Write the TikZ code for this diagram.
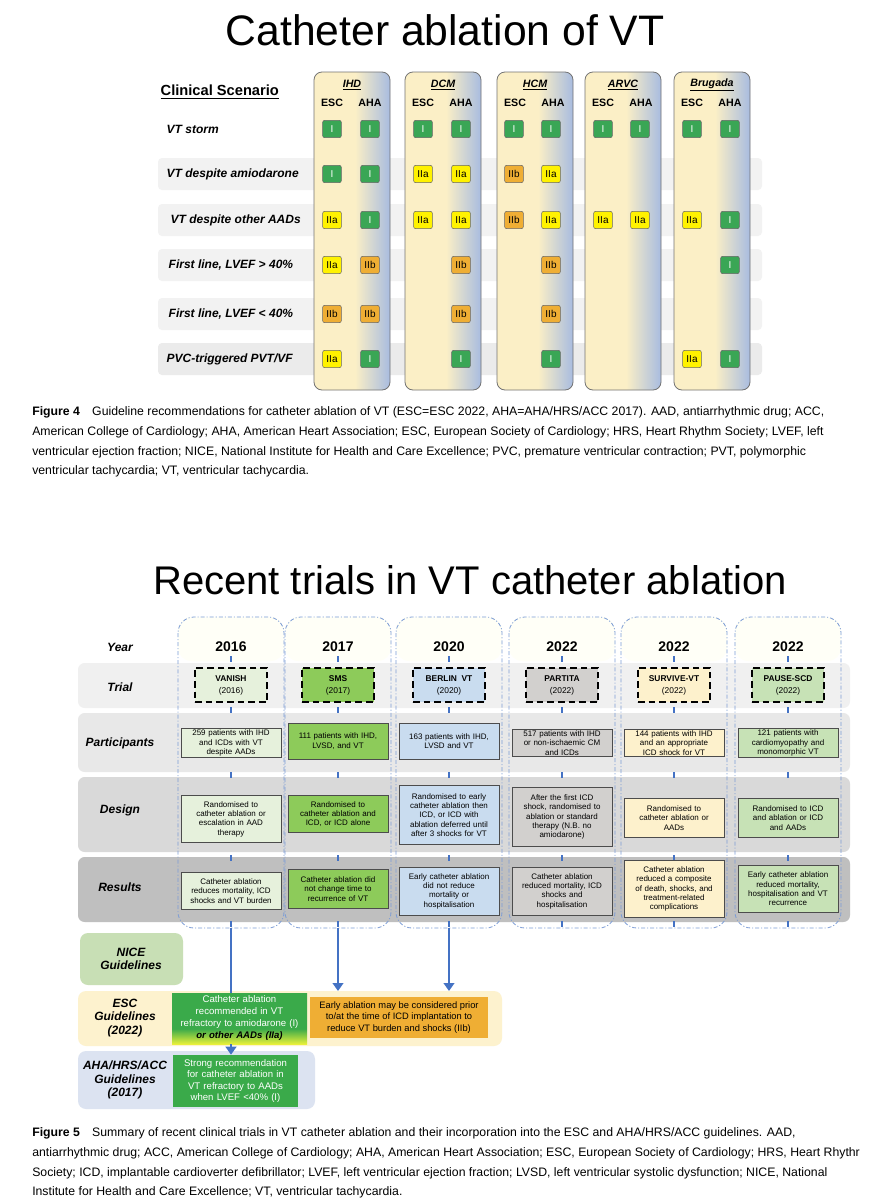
\documentclass[tikz,border=0pt]{standalone}
\usepackage{fontspec}
\setmainfont{Liberation Sans}
\usetikzlibrary{arrows.meta}
\definecolor{cy}{HTML}{FBEFC6}
\definecolor{cb}{HTML}{A8BCE0}
\definecolor{gI}{HTML}{3AA655}
\definecolor{yIIa}{HTML}{FFF200}
\definecolor{oIIb}{HTML}{EFAE34}
\definecolor{bl}{HTML}{4472C4}
\definecolor{gdark}{HTML}{3AAA4A}
\definecolor{gyel}{HTML}{E8F03A}
\definecolor{fVan}{HTML}{E6F1DC}
\definecolor{fSms}{HTML}{8DCB5A}
\definecolor{fBer}{HTML}{C9DCEF}
\definecolor{fPar}{HTML}{D2D0CE}
\definecolor{fSur}{HTML}{FDF1CC}
\definecolor{fPau}{HTML}{C7E2B6}
\definecolor{fNice}{HTML}{C8DFB5}
\definecolor{fAha}{HTML}{DCE3F1}
\definecolor{fEsc}{HTML}{FDF2CE}
\pgfdeclarehorizontalshading{colsh}{100bp}{color(0bp)=(cy); color(25bp)=(cy); color(52bp)=(cy); color(75bp)=(cb); color(100bp)=(cb)}
\pgfdeclareverticalshading{escsh}{100bp}{color(0bp)=(gyel); color(25bp)=(gyel); color(40bp)=(gdark); color(100bp)=(gdark)}
\tikzset{
 badge/.style={draw=black!60, rounded corners=1.5pt, minimum width=14pt, minimum height=13pt, inner sep=0pt, font=\fontsize{7.5}{8}\selectfont},
 bI/.style={badge, fill=gI, text=white},
 bIIa/.style={badge, fill=yIIa},
 bIIb/.style={badge, fill=oIIb},
 rowlab/.style={anchor=west, font=\bfseries\itshape\fontsize{9}{10}\selectfont},
 hdr/.style={font=\bfseries\fontsize{8}{9}\selectfont},
 dis/.style={font=\bfseries\itshape\fontsize{8}{9}\selectfont},
 capt/.style={anchor=west, inner sep=0pt, font=\fontsize{9.2}{10}\selectfont},
 tbox/.style={draw=black!70, line width=0.6pt, align=center, inner sep=1pt, font=\fontsize{6}{7}\selectfont, text width=73pt, anchor=center},
 trial/.style={draw=black, line width=1.6pt, dash pattern=on 5pt off 3pt, minimum width=54pt, minimum height=26pt, align=center, inner sep=0pt, font=\bfseries\fontsize{6.3}{8}\selectfont},
 blab/.style={font=\bfseries\itshape\fontsize{9}{10}\selectfont, align=center},
 yr/.style={font=\bfseries\fontsize{10.5}{12}\selectfont},
 bdash/.style={bl, line width=2.2pt},
 arr/.style={bl, line width=2pt, -{Triangle[length=6pt,width=8pt]}},
}
\begin{document}
\begin{tikzpicture}[x=0.75pt,y=-0.75pt]
\useasboundingbox (0,0) rectangle (881,1200);
\fill[white] (0,0) rectangle (881,1200);
% ===== TOP =====
\node (t1) at (445,30) {\fontsize{32}{36}\selectfont Catheter ablation of VT};
\foreach \y/\c [count=\i] in {129/white,174/black!5,220/black!5,265/black!5,314/black!5,359/black!8}
  \fill[\c, rounded corners=3pt] (158,\y-16) rectangle (762,\y+16);
\foreach \xl/\nm [count=\i] in {314/IHD,405/DCM,497/HCM,585/ARVC,674/Brugada}{
  \shade[shading=colsh, rounded corners=6pt, draw=black!55, line width=0.6pt] (\xl,72) rectangle (\xl+76,390);
  \node[dis] (d\i) at (\xl+38,85) {\underline{\nm}};
  \node[hdr] (e\i) at (\xl+18,103) {ESC};
  \node[hdr] (a\i) at (\xl+56,103) {AHA};
}
\node[anchor=west, font=\bfseries\fontsize{11}{12}\selectfont] (cs) at (156,92) {\underline{Clinical Scenario}};
\node[rowlab] (r1) at (162,129) {VT storm};
\node[rowlab] (r2) at (162,174) {VT despite amiodarone};
\node[rowlab] (r3) at (166,220) {VT despite other AADs};
\node[rowlab] (r4) at (164,265) {First line, LVEF > 40\%};
\node[rowlab] (r5) at (164,314) {First line, LVEF < 40\%};
\node[rowlab] (r6) at (162,359) {PVC-triggered PVT/VF};
\foreach \x/\y/\s/\t [count=\k] in {
 332/129/bI/I, 370/129/bI/I, 423/129/bI/I, 461/129/bI/I, 514/129/bI/I, 551/129/bI/I, 603/129/bI/I, 640/129/bI/I, 692/129/bI/I, 730/129/bI/I,
 332/174/bI/I, 370/174/bI/I, 423/174/bIIa/IIa, 461/174/bIIa/IIa, 514/174/bIIb/IIb, 551/174/bIIa/IIa,
 332/220/bIIa/IIa, 370/220/bI/I, 423/220/bIIa/IIa, 461/220/bIIa/IIa, 514/220/bIIb/IIb, 551/220/bIIa/IIa, 603/220/bIIa/IIa, 640/220/bIIa/IIa, 692/220/bIIa/IIa, 730/220/bI/I,
 332/265/bIIa/IIa, 370/265/bIIb/IIb, 461/265/bIIb/IIb, 551/265/bIIb/IIb, 730/265/bI/I,
 332/314/bIIb/IIb, 370/314/bIIb/IIb, 461/314/bIIb/IIb, 551/314/bIIb/IIb,
 332/359/bIIa/IIa, 370/359/bI/I, 461/359/bI/I, 551/359/bI/I, 692/359/bIIa/IIa, 730/359/bI/I}
  \node[\s] (b\k) at (\x,\y) {\t};
\node[capt] (c41) at (32,412) {\textbf{Figure 4}\quad Guideline recommendations for catheter ablation of VT (ESC=ESC 2022, AHA=AHA/HRS/ACC 2017). AAD, antiarrhythmic drug; ACC,};
\node[capt] (c42) at (32,432) {American College of Cardiology; AHA, American Heart Association; ESC, European Society of Cardiology; HRS, Heart Rhythm Society; LVEF, left};
\node[capt] (c43) at (32,452) {ventricular ejection fraction; NICE, National Institute for Health and Care Excellence; PVC, premature ventricular contraction; PVT, polymorphic};
\node[capt] (c44) at (32,471) {ventricular tachycardia; VT, ventricular tachycardia.};
% ===== BOTTOM =====
\node (t2) at (470,580) {\fontsize{30}{34}\selectfont Recent trials in VT catheter ablation};
\fill[black!6, rounded corners=5pt] (78,663) rectangle (850,708);
\fill[black!9, rounded corners=5pt] (78,713) rectangle (850,772);
\fill[black!15, rounded corners=5pt] (78,777) rectangle (850,852);
\fill[black!25, rounded corners=5pt] (78,857) rectangle (850,922);
\foreach \cx in {231,338,449,562,674,788}{
  \fill[yellow!3, rounded corners=10pt] (\cx-53,617) rectangle (\cx+53,661);
  \draw[bl!70, line width=0.6pt, dash pattern=on 3pt off 1.5pt on 0.8pt off 1.5pt, rounded corners=12pt] (\cx-53,617) rectangle (\cx+53,928);
  \foreach \yy in {659,710,775,858,924} \draw[bdash] (\cx,\yy-3) -- (\cx,\yy+3);
}
\node[blab] (ly) at (120,647) {Year};
\node[blab] (lt) at (120,687) {Trial};
\node[blab] (lp) at (120,743) {Participants};
\node[blab] (ld) at (120,810) {Design};
\node[blab] (lr) at (120,887) {Results};
\foreach \cx/\y [count=\i] in {231/2016,338/2017,449/2020,562/2022,674/2022,788/2022}
  \node[yr] (y\i) at (\cx,647) {\y};
\node[trial, fill=fVan] (T1) at (231,685) {VANISH\\[1pt]\mdseries(2016)};
\node[trial, fill=fSms] (T2) at (338,685) {SMS\\[1pt]\mdseries(2017)};
\node[trial, fill=fBer] (T3) at (449,685) {BERLIN\ \ VT\\[1pt]\mdseries(2020)};
\node[trial, fill=fPar] (T4) at (562,685) {PARTITA\\[1pt]\mdseries(2022)};
\node[trial, fill=fSur] (T5) at (674,685) {SURVIVE-VT\\[1pt]\mdseries(2022)};
\node[trial, fill=fPau] (T6) at (788,685) {PAUSE-SCD\\[1pt]\mdseries(2022)};
\node[tbox, fill=fVan] (P1) at (231,743) {259 patients with IHD\\and ICDs with VT\\despite AADs};
\node[tbox, fill=fSms, minimum height=27pt] (P2) at (338,741) {111 patients with IHD,\\LVSD, and VT};
\node[tbox, fill=fBer, minimum height=27pt] (P3) at (449,741) {163 patients with IHD,\\LVSD and VT};
\node[tbox, fill=fPar] (P4) at (562,743) {517 patients with IHD\\or non-ischaemic CM\\and ICDs};
\node[tbox, fill=fSur] (P5) at (674,743) {144 patients with IHD\\and an appropriate\\ICD shock for VT};
\node[tbox, fill=fPau] (P6) at (788,743) {121 patients with\\cardiomyopathy and\\monomorphic VT};
\node[tbox, fill=fVan, minimum height=35pt] (D1) at (231,819) {Randomised to\\catheter ablation or\\escalation in AAD\\therapy};
\node[tbox, fill=fSms, minimum height=28pt] (D2) at (338,814) {Randomised to\\catheter ablation and\\ICD, or ICD alone};
\node[tbox, fill=fBer, minimum height=44pt] (D3) at (449,815) {Randomised to early\\catheter ablation then\\ICD, or ICD with\\ablation deferred until\\after 3 shocks for VT};
\node[tbox, fill=fPar, minimum height=44pt] (D4) at (562,817) {After the first ICD\\shock, randomised to\\ablation or standard\\therapy (N.B. no\\amiodarone)};
\node[tbox, fill=fSur, minimum height=29pt] (D5) at (674,818) {Randomised to\\catheter ablation or\\AADs};
\node[tbox, fill=fPau, minimum height=29pt] (D6) at (788,818) {Randomised to ICD\\and ablation or ICD\\and AADs};
\node[tbox, fill=fVan, minimum height=28pt] (R1) at (231,891) {Catheter ablation\\reduces mortality, ICD\\shocks and VT burden};
\node[tbox, fill=fSms, minimum height=29pt] (R2) at (338,889) {Catheter ablation did\\not change time to\\recurrence of VT};
\node[tbox, fill=fBer, minimum height=36pt] (R3) at (449,891) {Early catheter ablation\\did not reduce\\mortality or\\hospitalisation};
\node[tbox, fill=fPar, minimum height=36pt] (R4) at (562,891) {Catheter ablation\\reduced mortality, ICD\\shocks and\\hospitalisation};
\node[tbox, fill=fSur, minimum height=43pt] (R5) at (674,889) {Catheter ablation\\reduced a composite\\of death, shocks, and\\treatment-related\\complications};
\node[tbox, fill=fPau, minimum height=35pt] (R6) at (788,889) {Early catheter ablation\\reduced mortality,\\hospitalisation and VT\\recurrence};
\fill[fNice, rounded corners=6pt] (80,933) rectangle (183,985);
\node[blab] (nice) at (131,959) {NICE\\Guidelines};
\fill[fEsc, rounded corners=6pt] (78,991) rectangle (502,1046);
\node[blab] (esc) at (125,1018) {ESC\\Guidelines\\(2022)};
\fill[fAha, rounded corners=6pt] (78,1051) rectangle (315,1109);
\node[blab] (aha) at (125,1080) {AHA/HRS/ACC\\Guidelines\\(2017)};
\shade[shading=escsh] (172,993) rectangle (307,1044);
\node[align=center, text=white, font=\fontsize{7.2}{9}\selectfont, text width=100pt] (G1) at (239.5,1018) {Catheter ablation\\recommended in VT\\refractory to amiodarone (I)\\\textcolor{black}{\bfseries\itshape or other AADs (IIa)}};
\coordinate (G1top) at (231,993);
\coordinate (G1bot) at (231,1044);
\node[fill=oIIb, minimum width=133.5pt, minimum height=30.75pt, align=center, font=\fontsize{7}{8.5}\selectfont, inner sep=0pt] (G2) at (399,1017.5) {Early ablation may be considered prior\\to/at the time of ICD implantation to\\reduce VT burden and shocks (IIb)};
\node[fill=gdark, minimum width=94pt, minimum height=39pt, text width=90pt, align=center, text=white, font=\fontsize{7.2}{8.7}\selectfont, inner sep=0pt] (G3) at (235.5,1081) {Strong recommendation\\for catheter ablation in\\VT refractory to AADs\\when LVEF <40\% (I)};
\coordinate (c1b) at (231,928);
\coordinate (c2b) at (338,928);
\coordinate (c3b) at (449,928);
\draw[bl, line width=2pt] (c1b) -- (G1top);
\draw[arr] (c2b) -- (338,991);
\draw[arr] (c3b) -- (449,991);
\draw[arr] (G1bot) -- (G3.north -| G1bot);
\node[capt] (c51) at (32,1133) {\textbf{Figure 5}\quad Summary of recent clinical trials in VT catheter ablation and their incorporation into the ESC and AHA/HRS/ACC guidelines. AAD,};
\node[capt] (c52) at (32,1153) {antiarrhythmic drug; ACC, American College of Cardiology; AHA, American Heart Association; ESC, European Society of Cardiology; HRS, Heart Rhythr};
\node[capt] (c53) at (32,1173) {Society; ICD, implantable cardioverter defibrillator; LVEF, left ventricular ejection fraction; LVSD, left ventricular systolic dysfunction; NICE, National};
\node[capt] (c54) at (32,1192) {Institute for Health and Care Excellence; VT, ventricular tachycardia.};
\end{tikzpicture}
\end{document}
